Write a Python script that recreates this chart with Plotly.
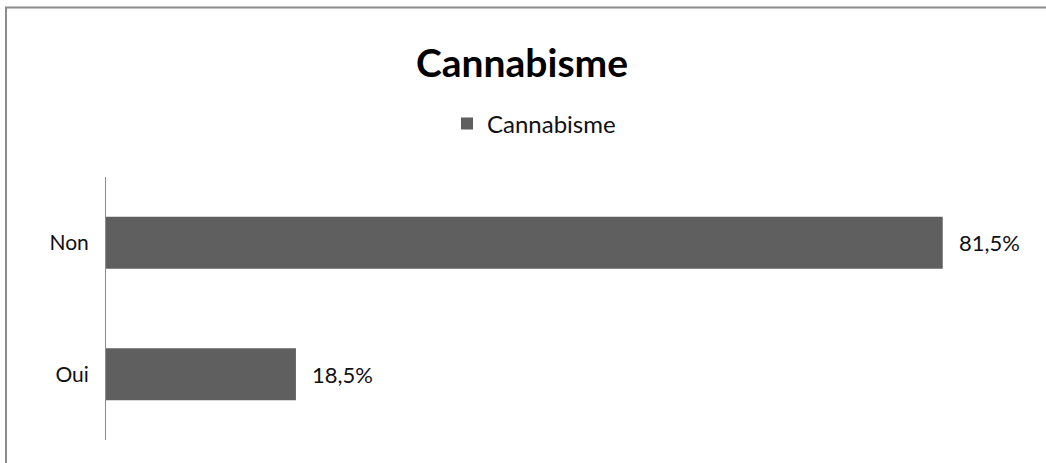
import plotly.graph_objects as go

# Survey answers, bottom to top
categories = ["Oui", "Non"]
percentages = [18.5, 81.5]
series_name = "Cannabisme"
chart_title = "Cannabisme"

W, H = 1046, 463
L, R, T, B = 106, 16, 177, 23
plot_w = W - L - R
plot_h = H - T - B

bar_color = "#5f5f5f"
font_family = "Lato, 'Open Sans', sans-serif"
label_size = 22

fig = go.Figure()
fig.add_trace(go.Bar(
    y=categories,
    x=percentages,
    orientation="h",
    name=series_name,
    marker=dict(color=bar_color, line=dict(width=0)),
    width=0.395,
    hoverinfo="skip",
))

# value labels to the right of each bar
for cat, val in zip(categories, percentages):
    fig.add_annotation(
        x=val, y=cat, xref="x", yref="y",
        text=f"{val:.1f}%".replace(".", ","),
        showarrow=False, xanchor="left", xshift=14,
        font=dict(family=font_family, size=label_size, color="#111111"),
    )

# outer chart frame (only top and left edges visible)
fig.add_shape(
    type="rect", xref="paper", yref="paper",
    x0=(6 - L) / plot_w, x1=(W + 20 - L) / plot_w,
    y0=-0.5, y1=1 + (T - 7.5) / plot_h,
    line=dict(color="#8c8c8c", width=2), fillcolor="rgba(0,0,0,0)",
    layer="below",
)

fig.update_layout(
    width=W, height=H,
    margin=dict(l=L, r=R, t=T, b=B),
    paper_bgcolor="white", plot_bgcolor="white",
    separators=", ",
    title=dict(
        text=f"<b>{chart_title}</b>",
        x=522 / W, xref="container", xanchor="center",
        y=1 - 63 / H, yref="container", yanchor="middle",
        font=dict(family=font_family, size=39, color="#000000"),
    ),
    showlegend=True,
    legend=dict(
        orientation="h",
        x=(447 - L) / plot_w, xanchor="left",
        y=1 + (T - 124) / plot_h, yanchor="middle",
        font=dict(family=font_family, size=24, color="#111111"),
        bgcolor="rgba(0,0,0,0)",
    ),
    xaxis=dict(
        range=[0, 90], visible=False, showgrid=False, zeroline=False,
    ),
    yaxis=dict(
        showline=True, linecolor="#8c8c8c", linewidth=1,
        ticks="", showgrid=False, zeroline=False,
        ticklabelstandoff=12,
        tickfont=dict(family=font_family, size=21, color="#111111"),
    ),
    bargap=0.6,
)

fig.write_html("out.html")
